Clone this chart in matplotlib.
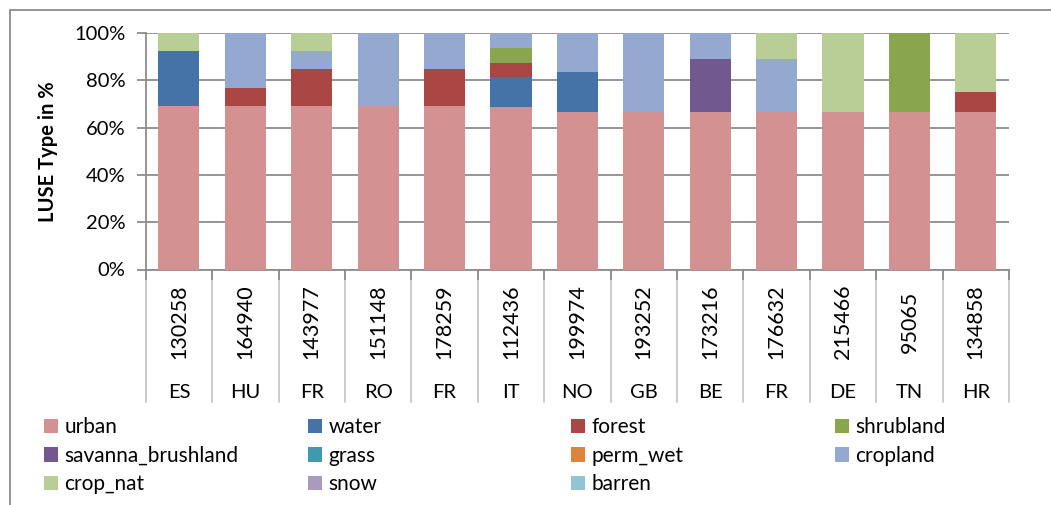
import matplotlib
matplotlib.use("Agg")
import matplotlib.pyplot as plt
from matplotlib.patches import Rectangle, Patch
import numpy as np

plt.rcParams['font.family'] = ['Lato', 'DejaVu Sans']

# categories (two-level axis: id / country)
ids = ['130258', '164940', '143977', '151148', '178259', '112436', '199974',
       '193252', '173216', '176632', '215466', '95065', '134858']
countries = ['ES', 'HU', 'FR', 'RO', 'FR', 'IT', 'NO', 'GB', 'BE', 'FR', 'DE', 'TN', 'HR']

# share of each land-use type per location, in %
urban = [69.2, 69.2, 69.2, 69.2, 69.2, 68.75, 66.7, 66.7, 66.7, 66.7, 66.7, 66.7, 66.7]
water = [23.1, 0, 0, 0, 0, 12.5, 16.7, 0, 0, 0, 0, 0, 0]
forest = [0, 7.7, 15.4, 0, 15.4, 6.25, 0, 0, 0, 0, 0, 0, 8.3]
shrubland = [0, 0, 0, 0, 0, 6.25, 0, 0, 0, 0, 0, 33.3, 0]
savanna_brushland = [0, 0, 0, 0, 0, 0, 0, 0, 22.2, 0, 0, 0, 0]
grass = [0] * 13
perm_wet = [0] * 13
cropland = [0, 23.1, 7.7, 30.8, 15.4, 6.25, 16.7, 33.3, 11.1, 22.2, 0, 0, 0]
crop_nat = [7.7, 0, 7.7, 0, 0, 0, 0, 0, 0, 11.1, 33.3, 0, 25.0]
snow = [0] * 13
barren = [0] * 13

series = {
    'urban': urban, 'water': water, 'forest': forest, 'shrubland': shrubland,
    'savanna_brushland': savanna_brushland, 'grass': grass, 'perm_wet': perm_wet,
    'cropland': cropland, 'crop_nat': crop_nat, 'snow': snow, 'barren': barren,
}
colors = {
    'urban': '#D39291', 'water': '#4572A7', 'forest': '#AA4643', 'shrubland': '#89A54E',
    'savanna_brushland': '#71588F', 'grass': '#4198AF', 'perm_wet': '#DB843D',
    'cropland': '#93A9CF', 'crop_nat': '#B9CD96', 'snow': '#A99BBD', 'barren': '#92C5D3',
}

W, H = 1051, 505
fig = plt.figure(figsize=(W / 100, H / 100), dpi=100)
ax = fig.add_axes([145.7 / W, 1 - 269.5 / H, (1009 - 145.7) / W, (269.5 - 33) / H])

x = np.arange(len(ids))
bottom = np.zeros(len(ids))
for name, vals in series.items():
    vals = np.array(vals, dtype=float)
    ax.bar(x, vals, width=0.62, bottom=bottom, color=colors[name], zorder=3,
           edgecolor='none')
    bottom += vals

ax.set_xlim(-0.5, len(ids) - 0.5)
ax.set_ylim(0, 100)
ax.set_yticks(np.arange(0, 101, 20))
ax.set_yticklabels([f'{v}%' for v in range(0, 101, 20)])
ax.yaxis.grid(True, color='#8C8C8C', lw=1.3, zorder=0)
ax.set_axisbelow(True)
for s in ['top', 'right']:
    ax.spines[s].set_visible(False)
for s in ['left', 'bottom']:
    ax.spines[s].set_color('#8C8C8C')
    ax.spines[s].set_linewidth(1.3)
ax.tick_params(axis='y', length=6.5, width=1.3, color='#8C8C8C', pad=8, labelsize=14.5)
ax.tick_params(axis='x', length=0, labelbottom=False)
ax.set_ylabel('LUSE Type in %', fontsize=14.5, fontweight='bold', labelpad=12)

# multi-level category axis
trans = ax.get_xaxis_transform()
depth = (402 - 269.5) / (269.5 - 33)
for i in range(len(ids) + 1):
    ax.plot([i - 0.5, i - 0.5], [0, -depth], transform=trans, color='#BFBFBF',
            lw=1.1, clip_on=False)
    ax.plot([i - 0.5, i - 0.5], [0, -0.04], transform=trans, color='#8C8C8C',
            lw=1.3, clip_on=False)
for i, (num, cc) in enumerate(zip(ids, countries)):
    ax.text(i, (269.5 - 322) / (269.5 - 33), num, transform=trans, rotation=90,
            ha='center', va='center', fontsize=15.5)
    ax.text(i, (269.5 - 392) / (269.5 - 33), cc, transform=trans,
            ha='center', va='center', fontsize=14.5)

# legend: four equal-width columns, filled row by row
names = list(series.keys())
col_x = [44, 308, 571, 835]
for c in range(4):
    col_names = names[c::4]
    handles = [Patch(facecolor=colors[n], edgecolor='none') for n in col_names]
    fig.legend(handles, col_names, loc='upper left',
               bbox_to_anchor=(col_x[c] / W, 1 - 417 / H), frameon=False,
               fontsize=15, handlelength=0.68, handleheight=0.68,
               handletextpad=0.3, labelspacing=0.42, borderpad=0, borderaxespad=0)

# outer chart border (cropped at right/bottom)
fig.patches.append(Rectangle((9.5 / W, -0.1), 1.2, 1 - 9.5 / H + 0.1,
                             transform=fig.transFigure, fill=False,
                             edgecolor='#8C8C8C', lw=1.3))

fig.savefig('out.png', dpi=100)
